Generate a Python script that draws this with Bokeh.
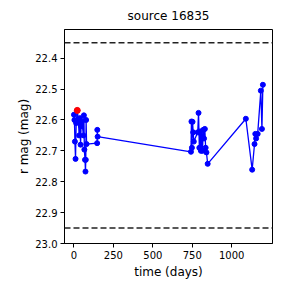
from bokeh.plotting import figure
from bokeh.models import Range1d, Span, FixedTicker, NumeralTickFormatter
from bokeh.embed import file_html
from bokeh.resources import INLINE

title_text = "source 16835"
x_label = "time (days)"
y_label = "r mag (mag)"

time_days = [0, 3, 6, 10, 14, 21, 28, 33, 38, 42, 45, 50, 60, 63, 66, 70, 73, 75, 77, 80,
             147, 148, 150,
             742, 745, 748, 752, 756, 760, 785, 790, 795, 800, 805, 810, 815, 820, 825, 830,
             835, 840, 848,
             1090, 1130, 1145, 1150, 1155, 1165, 1185, 1192, 1198]
r_mag = [22.583, 22.600, 22.670, 22.726, 22.610, 22.569, 22.600, 22.650, 22.594, 22.680,
         22.620, 22.605, 22.650, 22.585, 22.696, 22.729, 22.767, 22.729, 22.600, 22.678,
         22.675, 22.632, 22.654,
         22.703, 22.605, 22.690, 22.606, 22.640, 22.670, 22.640, 22.577, 22.690, 22.637,
         22.700, 22.650, 22.700, 22.632, 22.660, 22.629, 22.690, 22.705, 22.742,
         22.596, 22.761, 22.678, 22.645, 22.660, 22.645, 22.505, 22.629, 22.486]
flag_time = [21]
flag_mag = [22.569]
limit_lines = [22.35, 22.95]
x_ticks = [0, 250, 500, 750, 1000]
y_ticks = [22.4, 22.5, 22.6, 22.7, 22.8, 22.9, 23.0]

p = figure(width=288, height=288, output_backend="svg", toolbar_location=None,
           x_range=Range1d(-60, 1259), y_range=Range1d(23.0, 22.307),
           min_border_left=64, min_border_right=16, min_border_top=28, min_border_bottom=45)

p.title.text = title_text
p.title.align = "center"
p.title.text_font = "DejaVu Sans"
p.title.text_font_size = "12px"
p.title.text_font_style = "normal"
p.title.text_color = "black"
p.title.standoff = 13

p.xgrid.visible = False
p.ygrid.visible = False
p.outline_line_color = "black"
p.outline_line_width = 1
p.background_fill_color = "white"
p.border_fill_color = "white"

for ax in (p.xaxis[0], p.yaxis[0]):
    ax.major_tick_out = 4
    ax.major_tick_in = 0
    ax.minor_tick_out = 0
    ax.minor_tick_in = 0
    ax.major_label_text_font = "DejaVu Sans"
    ax.major_label_text_font_size = "10px"
    ax.major_label_text_color = "black"
    ax.axis_label_text_font = "DejaVu Sans"
    ax.axis_label_text_font_size = "12px"
    ax.axis_label_text_font_style = "normal"
    ax.axis_label_text_color = "black"
    ax.axis_line_color = "black"
    ax.major_tick_line_color = "black"
    ax.major_label_standoff = 3

p.xaxis.ticker = FixedTicker(ticks=x_ticks)
p.yaxis.ticker = FixedTicker(ticks=y_ticks)
p.yaxis.formatter = NumeralTickFormatter(format="0.0")
p.xaxis.axis_label = x_label
p.yaxis.axis_label = y_label
p.xaxis.axis_label_standoff = 3
p.yaxis.axis_label_standoff = 1

for yv in limit_lines:
    p.add_layout(Span(location=yv, dimension="width", line_color="#222222",
                      line_width=1.5, line_dash="6 3"))

p.line(time_days, r_mag, line_color="#0000ff", line_width=1.3)
p.scatter(time_days, r_mag, size=5, fill_color="#0000ff", line_color="#0000ff")
p.scatter(flag_time, flag_mag, size=6, fill_color="#ff0000", line_color="#ff0000")

open("out.html", "w").write(file_html(p, INLINE))
